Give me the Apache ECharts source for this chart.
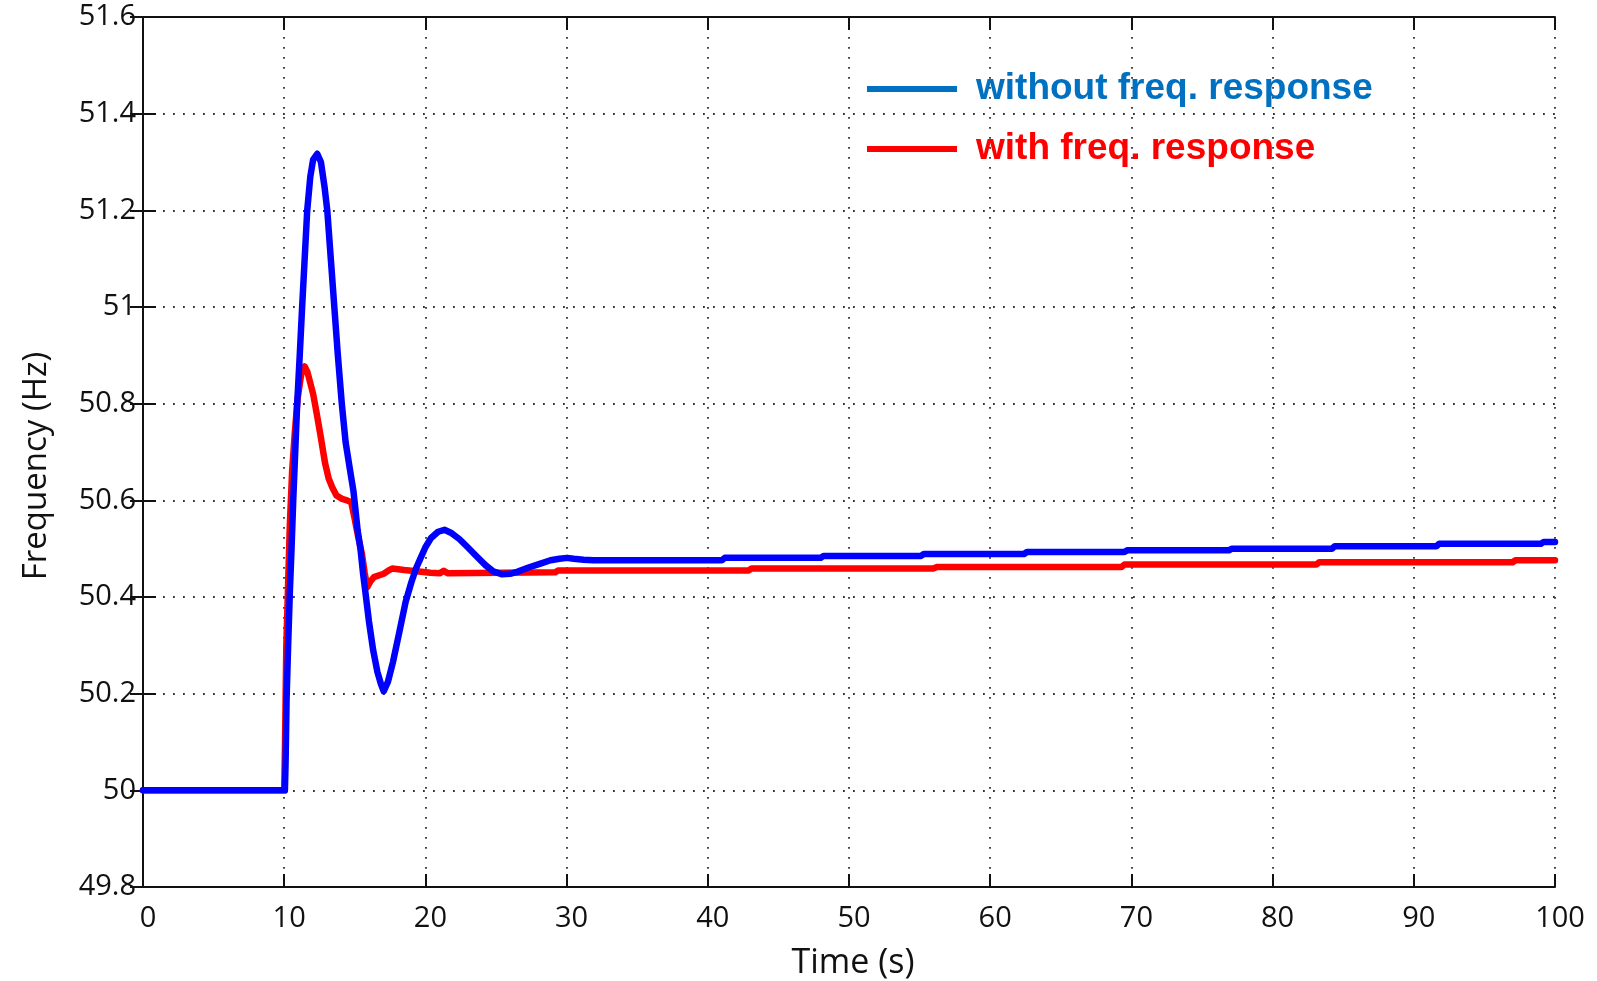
<!DOCTYPE html>
<html>
<head>
<meta charset="utf-8">
<title>Frequency response</title>
<script src="https://cdn.jsdelivr.net/npm/echarts@6/dist/echarts.min.js"></script>
<style>
  html, body { margin: 0; padding: 0; background: #fff; }
  #chart { width: 1597px; height: 981px; }
</style>
</head>
<body>
<div id="chart"></div>
<script>
// Time (s) and frequency (Hz) samples for each case
const tWithout = [0, 10.05, 10.1, 10.17, 10.28, 10.4, 10.52, 10.64, 10.78, 10.92, 11.1, 11.27, 11.45, 11.63, 11.85, 12.05, 12.34, 12.6, 12.85, 13.05, 13.3, 13.55, 13.8, 14.08, 14.35, 14.65, 14.9, 15.05, 15.2, 15.4, 15.58, 15.75, 16.0, 16.3, 16.6, 16.85, 17.05, 17.35, 17.7, 18.1, 18.6, 19.0, 19.35, 19.65, 20.0, 20.4, 20.9, 21.35, 21.8, 22.4, 22.96, 23.6, 24.25, 24.8, 25.44, 26.0, 26.5, 27.3, 28.15, 28.86, 29.5, 30.04, 30.5, 31.2, 31.9, 41.0, 41.2, 48.0, 48.2, 55.1, 55.3, 62.4, 62.6, 69.5, 69.7, 76.9, 77.1, 84.2, 84.4, 91.6, 91.8, 99.0, 99.2, 100];
const fWithout = [50.0, 50.0, 50.06, 50.19, 50.3, 50.41, 50.5, 50.60, 50.70, 50.80, 50.9, 51.0, 51.1, 51.2, 51.27, 51.305, 51.317, 51.3, 51.25, 51.2, 51.1, 51.0, 50.9, 50.8, 50.72, 50.665, 50.62, 50.58, 50.538, 50.50, 50.45, 50.41, 50.35, 50.29, 50.245, 50.22, 50.205, 50.225, 50.265, 50.32, 50.39, 50.43, 50.46, 50.48, 50.503, 50.522, 50.535, 50.539, 50.533, 50.52, 50.504, 50.485, 50.466, 50.453, 50.447, 50.448, 50.452, 50.461, 50.469, 50.476, 50.479, 50.481, 50.479, 50.477, 50.476, 50.476, 50.481, 50.481, 50.485, 50.485, 50.489, 50.489, 50.493, 50.493, 50.4965, 50.4965, 50.500, 50.500, 50.505, 50.505, 50.510, 50.510, 50.514, 50.514];

const tWith = [0, 10.0, 10.05, 10.1, 10.15, 10.3, 10.4, 10.56, 10.75, 10.95, 11.2, 11.45, 11.65, 12.05, 12.3, 12.55, 12.9, 13.15, 13.4, 13.7, 14.1, 14.45, 14.75, 14.97, 15.2, 15.5, 15.7, 15.88, 16.1, 16.35, 17.05, 17.4, 17.65, 18.5, 19.2, 20.36, 21.0, 21.3, 21.6, 29.2, 29.4, 42.9, 43.1, 56.0, 56.2, 69.3, 69.5, 83.1, 83.3, 97.0, 97.2, 100];
const fWith = [50.0, 50.0, 50.08, 50.19, 50.30, 50.45, 50.55, 50.66, 50.74, 50.81, 50.86, 50.877, 50.865, 50.82, 50.78, 50.738, 50.676, 50.645, 50.627, 50.61, 50.603, 50.60, 50.596, 50.565, 50.53, 50.49, 50.45, 50.42, 50.432, 50.441, 50.448, 50.455, 50.459, 50.456, 50.454, 50.45, 50.449, 50.454, 50.449, 50.451, 50.455, 50.455, 50.459, 50.459, 50.462, 50.462, 50.467, 50.467, 50.472, 50.472, 50.476, 50.476];

const seriesNames = ['without freq. response', 'with freq. response'];
const xTitle = 'Time (s)';
const yTitle = 'Frequency (Hz)';

const pairs = (ts, fs) => ts.map((t, i) => [t, fs[i]]);

const tickFont = { fontFamily: 'Open Sans', fontSize: 29, color: '#111' };
const frameLine = { show: true, lineStyle: { color: '#111', width: 2 } };
const innerTick = { show: true, inside: true, length: 13, lineStyle: { color: '#111', width: 2 } };
const dotted = { show: true, lineStyle: { color: '#333', width: 1.8, type: [1.8, 8.2] } };

const chart = echarts.init(document.getElementById('chart'), null, { renderer: 'canvas' });
chart.setOption({
  backgroundColor: '#ffffff',
  animation: false,
  grid: { left: 143, right: 42, top: 17, bottom: 94, containLabel: false, outerBoundsMode: 'none' },
  legend: {
    orient: 'vertical',
    left: 862,
    top: 64,
    itemWidth: 90,
    itemHeight: 6,
    itemGap: 20,
    icon: 'rect',
    selectedMode: false,
    textStyle: {
      fontFamily: 'Liberation Sans',
      fontWeight: 'bold',
      fontSize: 37,
      lineHeight: 40,
      padding: [0, 0, 0, 14]
    },
    data: [
      { name: seriesNames[0], itemStyle: { color: '#0070C0' }, textStyle: { color: '#0070C0' } },
      { name: seriesNames[1], itemStyle: { color: '#FF0000' }, textStyle: { color: '#FF0000' } }
    ]
  },
  xAxis: [
    {
      type: 'value', position: 'bottom', min: 0, max: 100, interval: 10,
      name: xTitle, nameLocation: 'middle', nameGap: 59,
      nameTextStyle: { fontFamily: 'Open Sans', fontSize: 34, color: '#111', padding: [0, 0, 0, 8] },
      axisLine: frameLine, axisTick: innerTick,
      axisLabel: Object.assign({ margin: 17, padding: [0, 0, 0, 10] }, tickFont),
      splitLine: dotted
    },
    {
      type: 'value', position: 'top', min: 0, max: 100, interval: 10,
      axisLine: frameLine, axisTick: innerTick,
      axisLabel: { show: false }, splitLine: { show: false }
    }
  ],
  yAxis: [
    {
      type: 'value', position: 'left', min: 49.8, max: 51.6, interval: 0.2,
      name: yTitle, nameLocation: 'middle', nameGap: 90, nameRotate: 90,
      nameTextStyle: { fontFamily: 'Open Sans', fontSize: 33, color: '#111', padding: [0, 28, 0, 0] },
      axisLine: frameLine, axisTick: innerTick,
      axisLabel: Object.assign({ margin: 7, padding: [12, 0, 0, 0] }, tickFont),
      splitLine: dotted
    },
    {
      type: 'value', position: 'right', min: 49.8, max: 51.6, interval: 0.2,
      axisLine: frameLine, axisTick: innerTick,
      axisLabel: { show: false }, splitLine: { show: false }
    }
  ],
  series: [
    {
      name: seriesNames[1], type: 'line', xAxisIndex: 0, yAxisIndex: 0,
      data: pairs(tWith, fWith), showSymbol: false, z: 2,
      lineStyle: { color: '#FF0000', width: 6.5, join: 'round', cap: 'round' },
      itemStyle: { color: '#FF0000' }
    },
    {
      name: seriesNames[0], type: 'line', xAxisIndex: 0, yAxisIndex: 0,
      data: pairs(tWithout, fWithout), showSymbol: false, z: 3,
      lineStyle: { color: '#0000FF', width: 6.5, join: 'round', cap: 'round' },
      itemStyle: { color: '#0000FF' }
    }
  ]
});
</script>
</body>
</html>
